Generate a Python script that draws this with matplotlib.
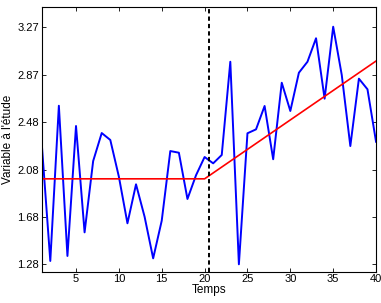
import numpy as np
import matplotlib
matplotlib.use('Agg')
import matplotlib.pyplot as plt

plt.rcParams['font.family'] = ['Liberation Sans', 'DejaVu Sans']

temps = np.arange(1, 41)
variable = [2.298, 1.311, 2.613, 1.353, 2.443, 1.551, 2.149, 2.384, 2.326, 2.018,
            1.627, 1.954, 1.682, 1.333, 1.649, 2.233, 2.219, 1.831, 2.030, 2.183,
            2.130, 2.200, 2.982, 1.283, 2.382, 2.415, 2.611, 2.164, 2.806, 2.569,
            2.890, 2.982, 3.179, 2.672, 3.276, 2.871, 2.275, 2.840, 2.751, 2.311]

# tendance par morceaux
tendance_x = [1, 20, 40]
tendance_y = [2.0, 2.0, 2.988]

rupture = 20.5

ytick_vals = [1.283, 1.681, 2.078, 2.476, 2.873, 3.271]
ytick_labels = ['1.28', '1.68', '2.08', '2.48', '2.87', '3.27']
xtick_vals = [5, 10, 15, 20, 25, 30, 35, 40]

fig = plt.figure(figsize=(3.81, 3.03), dpi=100)
ax = fig.add_axes([0.1095, 0.1033, 0.8775, 0.8747])

ax.plot(temps, variable, color='#0000ff', lw=1.4)
ax.plot(tendance_x, tendance_y, color='#ff0000', lw=1.2)
ax.axvline(rupture, color='black', ls='--', lw=1.4, dashes=(2.2, 1.6))

ax.set_xlim(1, 40)
ax.set_ylim(1.221, 3.444)
ax.set_xticks(xtick_vals)
ax.set_yticks(ytick_vals)
ax.set_yticklabels(ytick_labels)
ax.tick_params(direction='in', top=True, right=True, labelsize=8, length=3, width=0.6, pad=2)
for s in ax.spines.values():
    s.set_linewidth(0.8)

ax.set_xlabel('Temps', fontsize=8.5, labelpad=0)
ax.set_ylabel('Variable à l\'étude', fontsize=8.5, labelpad=2)

fig.savefig('out.png', dpi=100)
